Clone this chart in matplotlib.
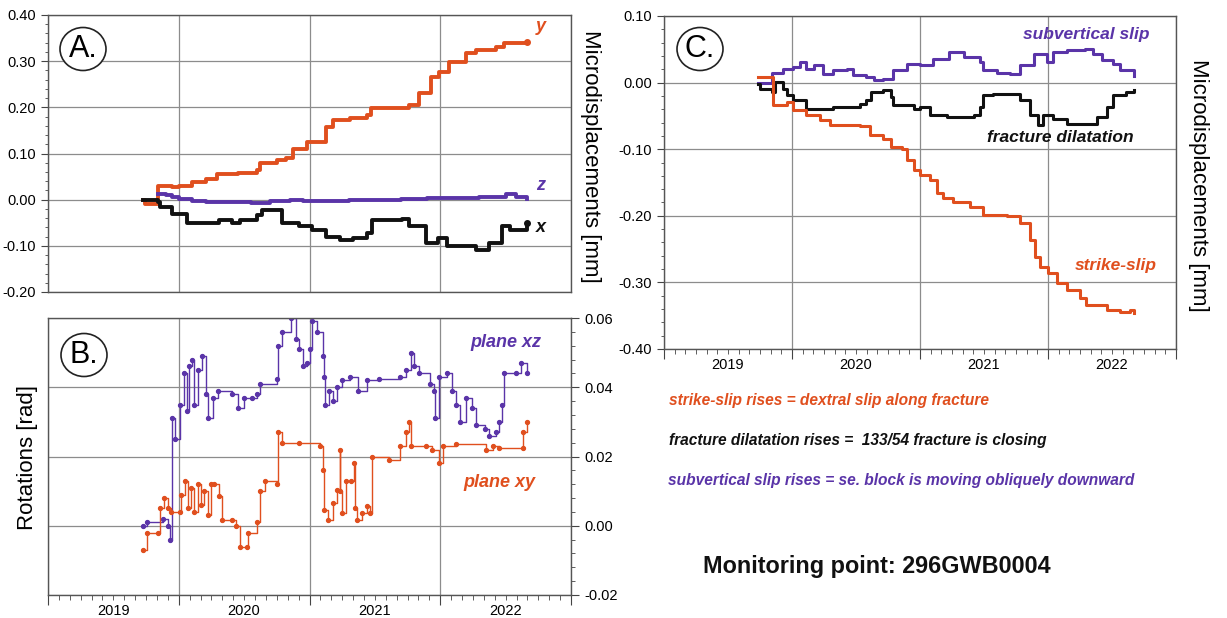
import numpy as np
import matplotlib
matplotlib.use("Agg")
import matplotlib.pyplot as plt
from matplotlib.patches import Ellipse
from matplotlib.ticker import FixedLocator, FuncFormatter, MultipleLocator

plt.rcParams['font.family'] = ['Liberation Sans', 'DejaVu Sans']

ORANGE = '#e04f1e'
PURPLE = '#5a34a8'
BLACK = '#111111'
GRID = '#8c8c8c'

# ---- Panel A: microdisplacements x, y, z [mm] (decimal years) ----
a_y_t = [2019.725, 2019.74, 2019.84, 2019.845, 2019.95, 2020.0, 2020.1, 2020.21, 2020.29,
         2020.45, 2020.6, 2020.62, 2020.75, 2020.82, 2020.87, 2020.98, 2021.13, 2021.18,
         2021.31, 2021.44, 2021.47, 2021.66, 2021.76, 2021.84, 2021.93, 2021.99, 2022.07,
         2022.2, 2022.27, 2022.43, 2022.49, 2022.66]
a_y_v = [0.0, -0.01, -0.01, 0.03, 0.028, 0.03, 0.038, 0.045, 0.055,
         0.058, 0.065, 0.08, 0.085, 0.09, 0.11, 0.125, 0.158, 0.173,
         0.177, 0.184, 0.199, 0.199, 0.206, 0.231, 0.266, 0.277, 0.299,
         0.318, 0.325, 0.331, 0.34, 0.342]

a_z_t = [2019.84, 2019.9, 2019.95, 2020.0, 2020.1, 2020.21, 2020.4, 2020.55, 2020.7,
         2020.85, 2020.95, 2021.1, 2021.3, 2021.5, 2021.7, 2021.9, 2022.1, 2022.3,
         2022.45, 2022.5, 2022.55, 2022.58, 2022.66]
a_z_v = [0.013, 0.01, 0.005, 0.002, -0.002, -0.005, -0.006, -0.008, -0.003,
         0.0, -0.002, -0.003, 0.0, 0.0, 0.002, 0.003, 0.004, 0.005,
         0.006, 0.013, 0.012, 0.005, 0.002]

a_x_t = [2019.725, 2019.84, 2019.855, 2019.95, 2020.06, 2020.21, 2020.31, 2020.41, 2020.47,
         2020.6, 2020.64, 2020.75, 2020.79, 2020.92, 2021.02, 2021.13, 2021.23, 2021.33,
         2021.44, 2021.48, 2021.71, 2021.76, 2021.89, 2021.98, 2022.05, 2022.27, 2022.37,
         2022.47, 2022.53, 2022.66]
a_x_v = [0.0, -0.005, -0.015, -0.03, -0.05, -0.05, -0.045, -0.05, -0.045,
         -0.033, -0.022, -0.022, -0.05, -0.058, -0.065, -0.08, -0.087, -0.083,
         -0.072, -0.043, -0.042, -0.058, -0.094, -0.083, -0.1, -0.108, -0.094,
         -0.058, -0.065, -0.05]

# ---- Panel B: rotations [rad] ----
b_xz_t = [2019.725, 2019.76, 2019.88, 2019.92, 2019.93, 2019.947, 2019.97, 2020.01, 2020.04,
          2020.06, 2020.08, 2020.10, 2020.12, 2020.15, 2020.18, 2020.21, 2020.22, 2020.26,
          2020.30, 2020.41, 2020.45, 2020.50, 2020.56, 2020.60, 2020.62, 2020.75, 2020.76,
          2020.79, 2020.86, 2020.90, 2020.92, 2020.95, 2020.98, 2021.0, 2021.02, 2021.06,
          2021.10, 2021.11, 2021.12, 2021.15, 2021.18, 2021.21, 2021.25, 2021.31, 2021.37,
          2021.44, 2021.53, 2021.69, 2021.74, 2021.78, 2021.80, 2021.84, 2021.92, 2021.95,
          2021.96, 2021.99, 2022.05, 2022.09, 2022.12, 2022.15, 2022.20, 2022.24, 2022.27,
          2022.34, 2022.37, 2022.43, 2022.45, 2022.47, 2022.49, 2022.58, 2022.62, 2022.66]
b_xz_v = [0.0, 0.001, 0.002, 0.0, -0.004, 0.031, 0.025, 0.035, 0.044,
          0.033, 0.046, 0.048, 0.035, 0.045, 0.049, 0.038, 0.031, 0.037,
          0.039, 0.038, 0.034, 0.037, 0.037, 0.038, 0.041, 0.0425, 0.052,
          0.056, 0.06, 0.054, 0.051, 0.046, 0.047, 0.051, 0.059, 0.056,
          0.049, 0.043, 0.035, 0.039, 0.036, 0.04, 0.042, 0.043, 0.039,
          0.042, 0.0425, 0.043, 0.045, 0.05, 0.046, 0.044, 0.041, 0.039,
          0.031, 0.043, 0.044, 0.039, 0.035, 0.030, 0.037, 0.034, 0.029,
          0.028, 0.026, 0.027, 0.030, 0.035, 0.044, 0.044, 0.047, 0.044]

b_xy_t = [2019.725, 2019.755, 2019.84, 2019.855, 2019.89, 2019.92, 2019.94, 2020.01, 2020.02,
          2020.05, 2020.07, 2020.09, 2020.12, 2020.15, 2020.17, 2020.19, 2020.22, 2020.25,
          2020.27, 2020.31, 2020.33, 2020.41, 2020.44, 2020.47, 2020.52, 2020.53, 2020.60,
          2020.62, 2020.66, 2020.75, 2020.76, 2020.79, 2020.92, 2021.08, 2021.10, 2021.11,
          2021.14, 2021.18, 2021.21, 2021.23, 2021.235, 2021.25, 2021.28, 2021.32, 2021.34,
          2021.35, 2021.36, 2021.40, 2021.44, 2021.46, 2021.48, 2021.61, 2021.69, 2021.74,
          2021.76, 2021.78, 2021.89, 2021.94, 2021.99, 2022.02, 2022.12, 2022.35, 2022.40,
          2022.45, 2022.63, 2022.635, 2022.66]
b_xy_v = [-0.007, -0.002, -0.002, 0.005, 0.008, 0.005, 0.004, 0.004, 0.009,
          0.013, 0.005, 0.011, 0.004, 0.012, 0.006, 0.010, 0.003, 0.012,
          0.012, 0.0085, 0.0017, 0.0017, 0.0, -0.006, -0.006, -0.002, 0.001,
          0.010, 0.013, 0.012, 0.027, 0.024, 0.024, 0.023, 0.016, 0.0046,
          0.0017, 0.0066, 0.0104, 0.022, 0.010, 0.0037, 0.013, 0.013, 0.018,
          0.005, 0.0017, 0.0037, 0.0056, 0.0037, 0.020, 0.019, 0.023, 0.027,
          0.030, 0.023, 0.023, 0.022, 0.018, 0.023, 0.0235, 0.022, 0.023,
          0.0225, 0.0225, 0.027, 0.030]

# ---- Panel C: fracture components [mm] ----
c_sv_t = [2019.737, 2019.835, 2019.84, 2019.93, 2020.01, 2020.06, 2020.11, 2020.17, 2020.24,
          2020.32, 2020.43, 2020.48, 2020.58, 2020.64, 2020.71, 2020.79, 2020.90, 2021.0,
          2021.10, 2021.23, 2021.34, 2021.47, 2021.49, 2021.60, 2021.70, 2021.78, 2021.89,
          2021.99, 2022.04, 2022.15, 2022.29, 2022.35, 2022.42, 2022.51, 2022.56, 2022.67]
c_sv_v = [0.0, 0.0, 0.015, 0.021, 0.024, 0.031, 0.021, 0.026, 0.0135,
          0.0185, 0.021, 0.011, 0.0085, 0.0045, 0.006, 0.0185, 0.0285, 0.026,
          0.036, 0.046, 0.0385, 0.031, 0.0185, 0.0145, 0.0125, 0.026, 0.0435,
          0.031, 0.046, 0.0485, 0.051, 0.0435, 0.0335, 0.0285, 0.0185, 0.0095]

c_fd_t = [2019.737, 2019.75, 2019.84, 2019.87, 2019.93, 2019.96, 2020.01, 2020.11, 2020.22,
          2020.32, 2020.48, 2020.53, 2020.58, 2020.62, 2020.71, 2020.77, 2020.79, 2020.95,
          2021.0, 2021.08, 2021.21, 2021.42, 2021.47, 2021.49, 2021.57, 2021.70, 2021.78,
          2021.86, 2021.92, 2021.96, 2022.04, 2022.15, 2022.28, 2022.38, 2022.46, 2022.51,
          2022.61, 2022.67]
c_fd_v = [-0.0015, -0.009, -0.014, 0.001, -0.009, -0.019, -0.026, -0.039, -0.039,
          -0.0365, -0.0365, -0.0315, -0.026, -0.014, -0.0115, -0.0215, -0.034, -0.039,
          -0.0365, -0.049, -0.0515, -0.049, -0.0365, -0.019, -0.0165, -0.0165, -0.0265,
          -0.049, -0.064, -0.049, -0.054, -0.0615, -0.0615, -0.0515, -0.0365, -0.019,
          -0.014, -0.0115]

c_ss_t = [2019.737, 2019.84, 2019.85, 2019.96, 2020.01, 2020.11, 2020.22, 2020.30, 2020.53,
          2020.61, 2020.71, 2020.77, 2020.86, 2020.90, 2020.95, 2021.0, 2021.08, 2021.13,
          2021.18, 2021.26, 2021.39, 2021.49, 2021.68, 2021.78, 2021.86, 2021.90, 2021.94,
          2022.0, 2022.07, 2022.15, 2022.25, 2022.30, 2022.46, 2022.56, 2022.64, 2022.67]
c_ss_v = [0.0085, 0.0085, -0.034, -0.029, -0.0415, -0.049, -0.0565, -0.064, -0.0655,
          -0.079, -0.084, -0.0965, -0.099, -0.1165, -0.1315, -0.138, -0.1465, -0.1665,
          -0.174, -0.179, -0.1865, -0.199, -0.2005, -0.2115, -0.2365, -0.2615, -0.2765,
          -0.2865, -0.3015, -0.3115, -0.324, -0.334, -0.3415, -0.344, -0.3415, -0.3465]

years = [2019, 2020, 2021, 2022]

W, H = 1227, 618
fig = plt.figure(figsize=(W / 100, H / 100), dpi=100)


def px_axes(l, t, r, b):
    return fig.add_axes([l / W, 1 - b / H, (r - l) / W, (b - t) / H])


def style_time_axis(ax, labels=True):
    ax.set_xlim(2019.0, 2023.0)
    ax.xaxis.set_major_locator(FixedLocator([2019, 2020, 2021, 2022, 2023]))
    ax.xaxis.set_minor_locator(FixedLocator([2019 + i / 12 for i in range(49)]))
    ax.xaxis.set_major_formatter(FuncFormatter(lambda v, p: ''))
    if labels:
        ax.xaxis.set_minor_formatter(FuncFormatter(
            lambda v, p: str(int(v)) if abs((v % 1) - 0.5) < 1e-3 else ''))
    else:
        ax.xaxis.set_minor_formatter(FuncFormatter(lambda v, p: ''))
    ax.tick_params(axis='x', which='major', length=7 if labels else 0, direction='out',
                   color='#444444')
    ax.tick_params(axis='x', which='minor', length=3.5 if labels else 0, direction='out',
                   color='#444444', labelsize=10.5, pad=3)
    ax.grid(True, which='major', color=GRID, lw=0.9)
    for s in ax.spines.values():
        s.set_color('#555555')
        s.set_linewidth(1.0)
    ax.set_axisbelow(True)


def circle_label(cx, cy, txt):
    fig.add_artist(Ellipse((cx / W, 1 - cy / H), 46 / W, 43 / H, transform=fig.transFigure,
                           fill=True, fc='white', ec='#222222', lw=1.2, zorder=5))
    fig.text(cx / W, 1 - cy / H, txt, ha='center', va='center', fontsize=22, zorder=6)


# Panel A
axA = px_axes(48, 15, 571, 292)
style_time_axis(axA, labels=False)
axA.set_ylim(-0.2, 0.4)
axA.yaxis.set_major_locator(MultipleLocator(0.1))
axA.yaxis.set_minor_locator(MultipleLocator(0.02))
axA.yaxis.set_major_formatter(FuncFormatter(lambda v, p: f'{v:.2f}'))
axA.tick_params(axis='y', which='major', length=5, labelsize=10.5, color='#444444')
axA.tick_params(axis='y', which='minor', length=2.5, color='#444444')
axA.plot(a_y_t, a_y_v, color=ORANGE, lw=2.8, drawstyle='steps-post')
axA.plot(a_z_t, a_z_v, color=PURPLE, lw=2.8, drawstyle='steps-post')
axA.plot(a_x_t, a_x_v, color=BLACK, lw=2.8, drawstyle='steps-post')
axA.plot(a_y_t[-1], a_y_v[-1], 'o', color=ORANGE, ms=4)
axA.plot(a_x_t[-1], a_x_v[-1], 'o', color=BLACK, ms=4)
axA.text(2022.73, 0.365, 'y', color=ORANGE, fontsize=13, fontweight='bold', style='italic')
axA.text(2022.73, 0.02, 'z', color=PURPLE, fontsize=13, fontweight='bold', style='italic')
axA.text(2022.73, -0.07, 'x', color=BLACK, fontsize=13, fontweight='bold', style='italic')
fig.text(591 / W, 1 - 156 / H, 'Microdisplacements [mm]', rotation=270, ha='center',
         va='center', fontsize=16)

# Panel B
axB = px_axes(48, 318, 571, 595)
style_time_axis(axB)
axB.set_ylim(-0.02, 0.06)
axB.yaxis.tick_right()
axB.yaxis.set_major_locator(MultipleLocator(0.02))
axB.yaxis.set_minor_locator(MultipleLocator(0.004))
axB.yaxis.set_major_formatter(FuncFormatter(lambda v, p: f'{v:.2f}'))
axB.tick_params(axis='y', which='major', length=6, labelsize=10.5, color='#444444')
axB.tick_params(axis='y', which='minor', length=3, color='#444444')
axB.plot(b_xz_t, b_xz_v, color=PURPLE, lw=1.0, drawstyle='steps-post',
         marker='o', ms=2.8)
axB.plot(b_xy_t, b_xy_v, color=ORANGE, lw=1.0, drawstyle='steps-post',
         marker='o', ms=2.8)
axB.text(2022.5, 0.053, 'plane xz', color=PURPLE, fontsize=13, fontweight='bold',
         style='italic', ha='center', va='center')
axB.text(2022.45, 0.0125, 'plane xy', color=ORANGE, fontsize=13, fontweight='bold',
         style='italic', ha='center', va='center')
fig.text(28 / W, 1 - 457 / H, 'Rotations [rad]', rotation=90, ha='center', va='center',
         fontsize=16)

# Panel C
axC = px_axes(664, 16, 1176, 349)
style_time_axis(axC)
axC.set_ylim(-0.4, 0.1)
axC.yaxis.set_major_locator(MultipleLocator(0.1))
axC.yaxis.set_minor_locator(MultipleLocator(0.02))
axC.yaxis.set_major_formatter(FuncFormatter(lambda v, p: f'{v:.2f}'))
axC.tick_params(axis='y', which='major', length=5, labelsize=10.5, color='#444444')
axC.tick_params(axis='y', which='minor', length=2.5, color='#444444')
axC.plot(c_sv_t, c_sv_v, color=PURPLE, lw=2.2, drawstyle='steps-post')
axC.plot(c_fd_t, c_fd_v, color=BLACK, lw=2.2, drawstyle='steps-post')
axC.plot(c_ss_t, c_ss_v, color=ORANGE, lw=2.2, drawstyle='steps-post')
axC.text(2022.3, 0.072, 'subvertical slip', color=PURPLE, fontsize=12.5, fontweight='bold',
         style='italic', ha='center', va='center')
axC.text(2022.1, -0.083, 'fracture dilatation', color=BLACK, fontsize=12.5,
         fontweight='bold', style='italic', ha='center', va='center')
axC.text(2022.53, -0.274, 'strike-slip', color=ORANGE, fontsize=12.5, fontweight='bold',
         style='italic', ha='center', va='center')
fig.text(1198 / W, 1 - 185 / H, 'Microdisplacements [mm]', rotation=270, ha='center',
         va='center', fontsize=16)

circle_label(83, 49, 'A.')
circle_label(84, 355, 'B.')
circle_label(700, 49, 'C.')

# Notes
fig.text(669 / W, 1 - 400 / H, 'strike-slip rises = dextral slip along fracture',
         color=ORANGE, fontsize=11.2, fontweight='bold', style='italic', va='center')
fig.text(669 / W, 1 - 441 / H, 'fracture dilatation rises =  133/54 fracture is closing',
         color=BLACK, fontsize=11.2, fontweight='bold', style='italic', va='center')
fig.text(668 / W, 1 - 481 / H,
         'subvertical slip rises = se. block is moving obliquely downward',
         color=PURPLE, fontsize=11.2, fontweight='bold', style='italic', va='center')
fig.text(877 / W, 1 - 567 / H, 'Monitoring point: 296GWB0004', color='#111111',
         fontsize=16.8, fontweight='bold', ha='center', va='center')

fig.savefig('out.png', dpi=100)
